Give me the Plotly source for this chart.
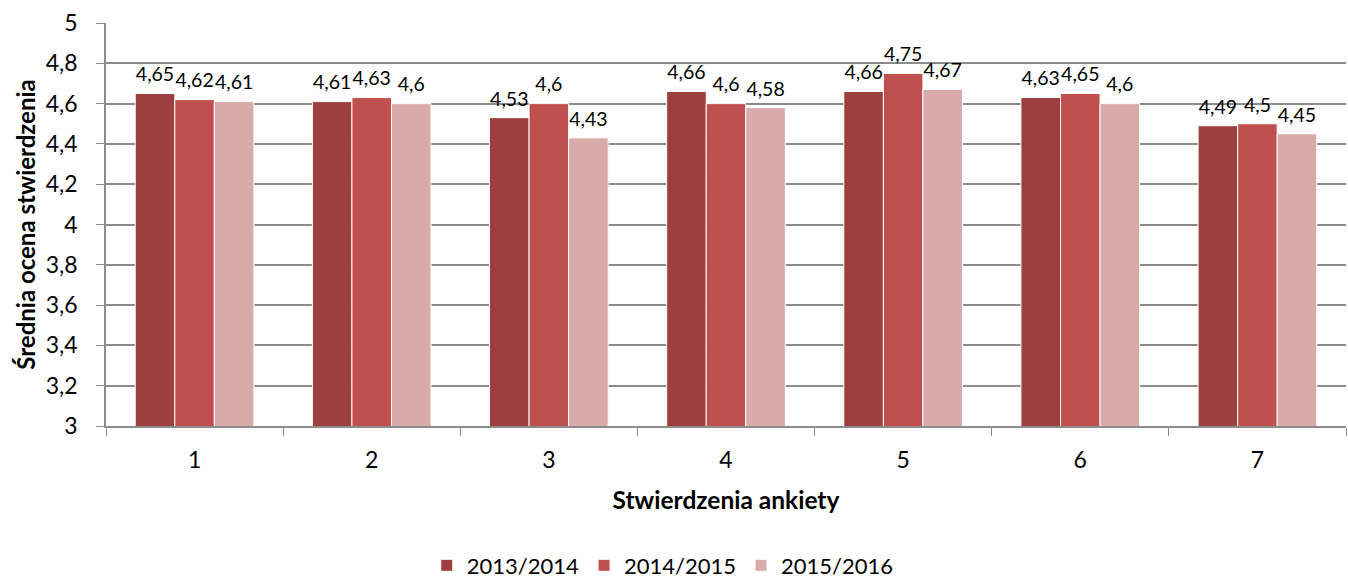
import plotly.graph_objects as go

categories = ["1", "2", "3", "4", "5", "6", "7"]
series_names = ["2013/2014", "2014/2015", "2015/2016"]
v2013 = [4.65, 4.61, 4.53, 4.66, 4.66, 4.63, 4.49]
v2014 = [4.62, 4.63, 4.60, 4.60, 4.75, 4.65, 4.50]
v2015 = [4.61, 4.60, 4.43, 4.58, 4.67, 4.60, 4.45]
colors = ["#9C3F3E", "#C0504D", "#D9AAAA"]
y_ticks = [3, 3.2, 3.4, 3.6, 3.8, 4, 4.2, 4.4, 4.6, 4.8, 5]

FONT = "Lato, Open Sans, sans-serif"

def fmt(v):
    s = ("%.2f" % v).rstrip("0").rstrip(".")
    return s.replace(".", ",")

fig = go.Figure()
for i, (name, vals, col) in enumerate(zip(series_names, [v2013, v2014, v2015], colors)):
    fig.add_trace(go.Bar(
        x=categories, y=vals, name=name, offsetgroup=str(i),
        marker=dict(color=col, line=dict(color="white", width=1)),
    ))
for i, (name, vals) in enumerate(zip(series_names, [v2013, v2014, v2015])):
    fig.add_trace(go.Scatter(
        x=categories, y=vals, name=name, offsetgroup=str(i), showlegend=False,
        mode="markers+text", marker=dict(size=10, opacity=0),
        text=[fmt(v) for v in vals], textposition="top center",
        textfont=dict(size=19.5, color="#000000", family=FONT),
        cliponaxis=False, hoverinfo="skip",
    ))

fig.update_layout(
    width=1348, height=583,
    margin=dict(l=106, r=2, t=23, b=157),
    paper_bgcolor="white", plot_bgcolor="white",
    barmode="group", bargap=0.33, bargroupgap=0,
    scattermode="group", scattergap=0.33,
    separators=", ",
    font=dict(family=FONT, size=22, color="#000000"),
    showlegend=True,
    legend=dict(orientation="h", x=0.449, xanchor="center",
                yref="container", y=0.03, yanchor="middle",
                font=dict(size=22, family=FONT), traceorder="normal"),
    xaxis=dict(
        title=dict(text="<b>Stwierdzenia ankiety</b>", font=dict(size=24.5, family=FONT), standoff=20),
        showline=True, linecolor="#8C8C8C", linewidth=1.5,
        ticks="outside", tickson="boundaries", ticklen=8, tickcolor="#8C8C8C",
        tickfont=dict(size=23, family=FONT), showgrid=False, ticklabelstandoff=13,
    ),
    yaxis=dict(
        title=dict(text="<b>Średnia ocena stwierdzenia</b>", font=dict(size=24, family=FONT), standoff=3),
        range=[3, 5], tickvals=y_ticks, ticktext=[fmt(t) for t in y_ticks],
        showline=True, linecolor="#8C8C8C", linewidth=1.5,
        ticks="outside", ticklen=8, tickcolor="#8C8C8C",
        showgrid=True, gridcolor="#8C8C8C", gridwidth=1.5,
        tickfont=dict(size=23, family=FONT), zeroline=False, ticklabelstandoff=14,
    ),
)

fig.write_html("out.html", config={"displayModeBar": False},
               post_script="document.body.style.margin='0';")
